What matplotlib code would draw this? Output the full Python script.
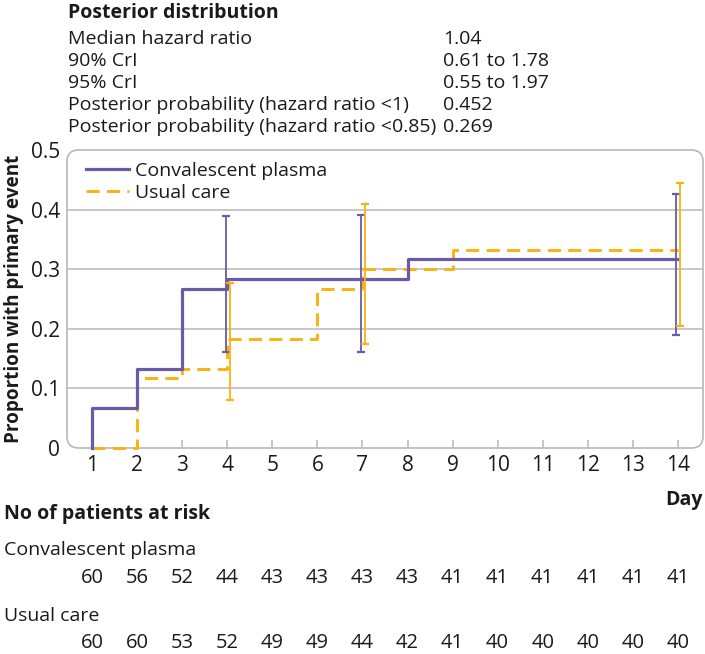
import matplotlib
matplotlib.use("Agg")
import matplotlib.pyplot as plt
import matplotlib.transforms as mtransforms
from matplotlib.patches import FancyBboxPatch

plt.rcParams['font.family'] = ['Open Sans', 'DejaVu Sans']

# posterior summary
post_labels = ["Median hazard ratio", "90% CrI", "95% CrI",
               "Posterior probability (hazard ratio <1)",
               "Posterior probability (hazard ratio <0.85)"]
post_values = ["1.04", "0.61 to 1.78", "0.55 to 1.97", "0.452", "0.269"]

# Kaplan-Meier style step data
cp_days = [1, 1, 2, 3, 4, 8, 14]
cp_prop = [0, 0.067, 0.133, 0.267, 0.283, 0.317, 0.317]
uc_days = [1, 2, 3, 4, 6, 7, 9, 14]
uc_prop = [0, 0.117, 0.133, 0.183, 0.267, 0.300, 0.333, 0.333]

# error bars at days 4, 7, 14
err_days = [4, 7, 14]
cp_mid = [0.283, 0.283, 0.317]
cp_lo = [0.161, 0.161, 0.189]
cp_hi = [0.390, 0.391, 0.427]
uc_mid = [0.183, 0.300, 0.333]
uc_lo = [0.080, 0.175, 0.204]
uc_hi = [0.277, 0.409, 0.445]

# numbers at risk
days = list(range(1, 15))
cp_risk = [60, 56, 52, 44, 43, 43, 43, 43, 41, 41, 41, 41, 41, 41]
uc_risk = [60, 60, 53, 52, 49, 49, 44, 42, 41, 40, 40, 40, 40, 40]

PURPLE = "#6b5aa8"
ORANGE = "#fbb110"
GRID = "#b8b8b8"
TXT = "#1a1a1a"
W, H = 705, 654
FS = 14

fig = plt.figure(figsize=(W / 100, H / 100), dpi=100)
ax = fig.add_axes([67 / W, 1 - 448 / H, 636 / W, 298 / H])
ax.set_xlim(0.44, 14.56)
ax.set_ylim(0, 0.5)

for s in ax.spines.values():
    s.set_visible(False)
frame = FancyBboxPatch((0, 0), 1, 1, boxstyle="round,pad=0,rounding_size=0.018",
                       transform=ax.transAxes, fill=False, ec=GRID, lw=1.2,
                       clip_on=False, zorder=1, mutation_aspect=636 / 298)
ax.add_patch(frame)
for yv in [0.1, 0.2, 0.3, 0.4]:
    ax.axhline(yv, color=GRID, lw=1.1, zorder=1)

ax.step(cp_days, cp_prop, where="post", color=PURPLE, lw=2.3, zorder=4,
        clip_on=False, label="Convalescent plasma")
ax.step(uc_days, uc_prop, where="post", color=ORANGE, lw=2.1, zorder=3,
        clip_on=False, dashes=(4.5, 2.5), label="Usual care")

cp_x = [d - 0.04 for d in err_days]
uc_x = [d + 0.06 for d in err_days]
ax.errorbar(cp_x, cp_mid,
            yerr=[[m - l for m, l in zip(cp_mid, cp_lo)], [h - m for m, h in zip(cp_mid, cp_hi)]],
            fmt="none", ecolor=PURPLE, elinewidth=1.3, capsize=3, capthick=1.6, zorder=5)
ax.errorbar(uc_x, uc_mid,
            yerr=[[m - l for m, l in zip(uc_mid, uc_lo)], [h - m for m, h in zip(uc_mid, uc_hi)]],
            fmt="none", ecolor=ORANGE, elinewidth=1.3, capsize=3, capthick=1.6, zorder=5)

ax.set_xticks(days)
ax.set_yticks([0, 0.1, 0.2, 0.3, 0.4, 0.5])
ax.set_yticklabels(["0", "0.1", "0.2", "0.3", "0.4", "0.5"])
ax.tick_params(axis="x", direction="in", length=6, width=1.1, color=GRID,
               labelsize=15, pad=5, labelcolor=TXT)
ax.tick_params(axis="y", length=0, labelsize=15, pad=5, labelcolor=TXT)
ax.set_ylabel("Proportion with primary event", fontsize=13.6, fontweight="bold",
              color=TXT, labelpad=5)

leg = ax.legend(loc="upper left", bbox_to_anchor=(0.03, 0.96), frameon=False,
                fontsize=14, handlelength=2.2, handletextpad=0.3, labelspacing=0.2,
                borderpad=0, borderaxespad=0)
for t in leg.get_texts():
    t.set_color(TXT)

# posterior table at the top
def fy(py):
    return 1 - py / H

fig.text(68 / W, fy(18), "Posterior distribution", fontsize=FS, fontweight="bold",
         color=TXT, va="baseline")
for i, (lab, val) in enumerate(zip(post_labels, post_values)):
    yb = fy(44 + 22 * i)
    fig.text(68 / W, yb, lab, fontsize=FS, color=TXT, va="baseline")
    fig.text(443 / W, yb, val, fontsize=FS, color=TXT, va="baseline")

# risk table
fig.text(703 / W, fy(505), "Day", fontsize=FS, fontweight="bold", color=TXT,
         ha="right", va="baseline")
fig.text(4 / W, fy(519), "No of patients at risk", fontsize=FS, fontweight="bold",
         color=TXT, va="baseline")
fig.text(4 / W, fy(555), "Convalescent plasma", fontsize=FS, color=TXT, va="baseline")
fig.text(4 / W, fy(621), "Usual care", fontsize=FS, color=TXT, va="baseline")
trans = mtransforms.blended_transform_factory(ax.transData, fig.transFigure)
for d, a, b in zip(days, cp_risk, uc_risk):
    ax.text(d, fy(583), str(a), transform=trans, ha="center", va="baseline",
            fontsize=14.5, color=TXT, clip_on=False)
    ax.text(d, fy(648), str(b), transform=trans, ha="center", va="baseline",
            fontsize=14.5, color=TXT, clip_on=False)

fig.savefig("out.png", dpi=100)
